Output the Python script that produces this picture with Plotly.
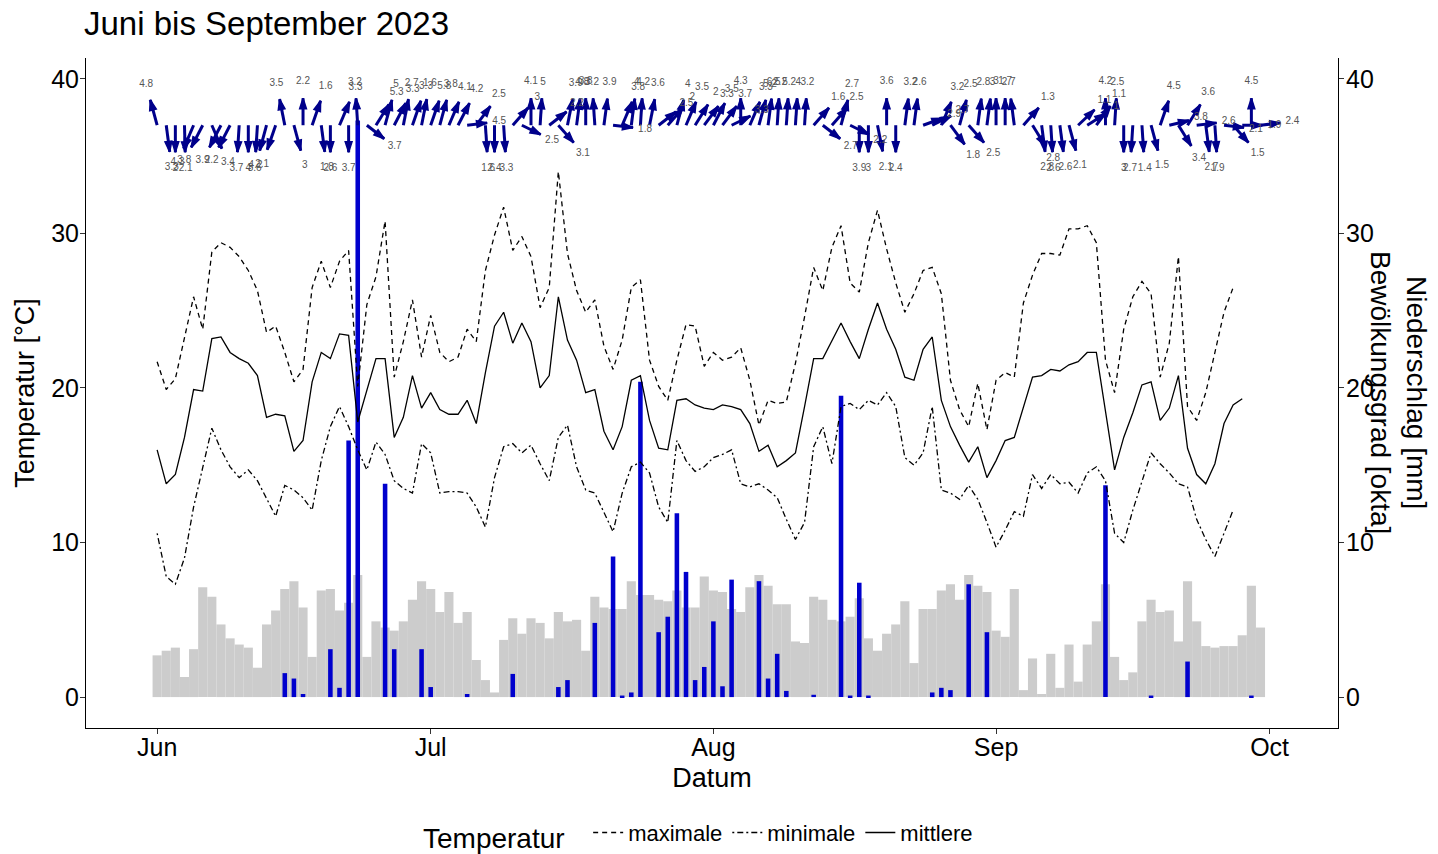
import math
import pandas as pd
import plotly.graph_objects as go

# ---------------- data ----------------
dates = pd.date_range("2023-06-01", periods=122, freq="D")

t_mean = [16.0, 13.8, 14.4, 16.8, 19.9, 19.8, 23.2, 23.3, 22.3, 21.9, 21.6, 20.8, 18.1, 18.3, 18.2, 15.9,
          16.6, 20.4, 22.3, 21.9, 23.5, 23.4, 17.8, 19.9, 21.9, 21.9, 16.8, 18.1, 20.8, 18.7, 19.7, 18.6,
          18.3, 18.3, 19.2, 17.7, 21.0, 24.0, 24.9, 22.9, 24.2, 23.0, 20.0, 20.8, 25.9, 23.1, 21.8, 19.7,
          19.9, 17.2, 16.0, 17.5, 20.5, 20.8, 17.9, 16.1, 16.0, 19.2, 19.3, 18.9, 18.7, 18.6, 18.9, 18.8,
          18.6, 17.7, 15.9, 16.3, 14.9, 15.3, 15.8, 18.8, 21.9, 21.9, 23.0, 24.2, 23.0, 21.9, 23.8, 25.5,
          23.8, 22.5, 20.7, 20.5, 22.5, 23.3, 19.2, 17.5, 16.3, 15.2, 16.2, 14.2, 15.3, 16.6, 16.8, 18.8,
          20.7, 20.8, 21.2, 21.1, 21.5, 21.7, 22.3, 22.3, 18.6, 14.7, 16.8, 18.4, 20.2, 20.4, 17.9, 18.7,
          20.8, 16.1, 14.4, 13.8, 15.1, 17.7, 18.9, 19.3]

t_max = [21.7, 19.9, 20.6, 23.3, 25.9, 23.8, 28.8, 29.4, 29.1, 28.5, 27.6, 26.3, 23.6, 24.0, 22.3, 20.4,
         21.2, 26.5, 28.2, 26.5, 28.2, 28.9, 20.1, 25.4, 27.2, 30.8, 20.7, 23.0, 25.7, 22.0, 24.7, 22.3,
         21.7, 22.0, 23.8, 23.0, 27.6, 29.9, 31.7, 28.9, 29.8, 28.5, 25.2, 26.5, 34.0, 28.7, 26.3, 24.9,
         25.7, 22.7, 21.2, 23.1, 26.5, 27.0, 21.8, 20.1, 19.2, 21.8, 24.1, 24.0, 21.4, 22.3, 21.8, 22.0,
         22.6, 20.5, 17.6, 19.2, 19.0, 19.1, 21.6, 24.6, 27.8, 26.3, 29.1, 30.5, 26.8, 26.2, 29.4, 31.5,
         29.0, 26.8, 24.9, 26.1, 27.6, 27.8, 26.1, 20.5, 18.6, 17.5, 20.3, 17.3, 20.5, 21.0, 20.7, 25.5,
         27.3, 28.7, 28.7, 28.6, 30.3, 30.3, 30.5, 29.4, 21.8, 19.7, 23.8, 25.9, 26.9, 26.1, 20.7, 22.9,
         28.5, 18.8, 17.9, 19.7, 22.3, 24.9, 26.5]

t_min = [10.6, 7.8, 7.3, 9.0, 12.3, 14.9, 17.4, 16.0, 14.9, 14.2, 14.7, 14.0, 12.8, 11.7, 13.7, 13.4,
         12.9, 12.1, 15.3, 17.5, 18.8, 17.5, 16.0, 14.7, 16.5, 15.7, 14.0, 13.5, 13.2, 16.4, 15.8, 13.2,
         13.3, 13.3, 13.2, 12.3, 11.0, 14.2, 16.2, 16.4, 15.8, 16.3, 15.1, 14.0, 16.8, 17.6, 14.9, 13.4,
         13.2, 11.9, 10.7, 13.2, 14.9, 15.2, 14.5, 12.3, 11.3, 16.6, 15.3, 14.6, 14.9, 15.5, 15.7, 16.0,
         13.8, 13.6, 13.8, 13.4, 12.9, 11.5, 10.2, 11.3, 16.2, 17.5, 15.1, 18.8, 19.0, 18.6, 19.2, 18.9,
         19.7, 18.8, 15.5, 15.0, 15.8, 18.8, 13.4, 13.2, 12.8, 13.7, 12.8, 11.3, 9.7, 10.8, 12.0, 11.7,
         14.4, 13.5, 14.4, 13.8, 13.9, 13.2, 14.5, 14.9, 14.0, 10.6, 10.0, 12.1, 14.0, 15.8, 15.1, 14.5,
         13.8, 13.6, 11.5, 10.2, 9.1, 10.6, 12.1]

cloud_okta = [2.7, 3.0, 3.2, 1.3, 3.1, 7.1, 6.5, 4.7, 3.8, 3.4, 3.2, 1.9, 4.7, 5.6, 7.0, 7.5,
              5.8, 2.6, 6.9, 7.0, 5.6, 6.1, 7.9, 2.6, 4.9, 4.5, 4.3, 4.9, 6.3, 7.5, 7.0, 5.5,
              6.8, 4.8, 5.5, 2.4, 1.1, 0.3, 3.7, 5.1, 4.1, 5.1, 4.8, 3.8, 5.5, 4.9, 5.0, 3.0,
              6.5, 5.8, 5.7, 5.7, 7.5, 6.6, 6.6, 6.3, 6.2, 6.9, 5.8, 5.8, 7.8, 6.9, 6.8, 5.7,
              5.5, 7.1, 7.9, 7.2, 6.0, 6.0, 3.6, 3.5, 6.5, 6.3, 5.0, 4.9, 5.2, 6.4, 3.8, 3.0,
              4.1, 4.7, 6.2, 2.2, 5.7, 5.7, 6.9, 7.3, 6.3, 7.9, 7.2, 6.8, 4.3, 3.9, 7.0, 0.45,
              2.5, 0.2, 2.8, 0.6, 3.4, 1.0, 3.4, 4.9, 7.3, 2.6, 1.1, 1.6, 4.9, 6.3, 5.5, 5.6,
              3.6, 7.5, 4.9, 3.3, 3.2, 3.3, 3.3, 4.0, 7.2, 4.5]

precip_mm = [0, 0, 0, 0, 0, 0, 0, 0, 0, 0, 0, 0, 0, 0, 1.55, 1.2,
             0.2, 0, 0, 3.1, 0.6, 16.6, 37.3, 0, 0, 13.8, 3.1, 0, 0, 3.1, 0.65, 0,
             0, 0, 0.2, 0, 0, 0, 0, 1.5, 0, 0, 0, 0, 0.65, 1.1, 0, 0,
             4.8, 0, 9.1, 0.1, 0.3, 20.4, 0, 4.2, 5.2, 11.9, 8.1, 1.1, 1.95, 4.9, 0.7, 7.6,
             0, 0, 7.5, 1.2, 2.8, 0.4, 0, 0, 0.15, 0, 0, 19.5, 0.1, 7.4, 0.1, 0,
             0, 0, 0, 0, 0, 0.3, 0.6, 0.45, 0, 7.3, 0, 4.2, 0, 0, 0, 0,
             0, 0, 0, 0, 0, 0, 0, 0, 13.7, 0, 0, 0, 0, 0.1, 0, 0,
             0, 2.3, 0, 0, 0, 0, 0, 0, 0.1, 0]

# direction the arrow points (deg, clockwise from up) and wind speed label
wind_dir = [340, 170, 180, 178, 210, 215, 150, 215, 215, 185, 180, 185, 200, 205, 345, 160,
            0, 25, 170, 180, 30, 180, 355, 120, 40, 20, 35, 15, 25, 15, 25, 20,
            30, 35, 85, 45, 175, 180, 175, 50, 110, 0, 5, 60, 130, 15, 10, 0,
            355, 10, 95, 30, 10, 5, 15, 60, 50, 20, 30, 40, 45, 35, 45, 70,
            0, 30, 20, 10, 5, 5, 5, 5, 50, 120, 50, 20, 110, 180, 180, 165,
            0, 180, 10, 10, 75, 70, 30, 135, 20, 130, 10, 10, 0, 0, 350, 50,
            140, 170, 175, 170, 160, 55, 65, 45, 0, 5, 180, 185, 175, 160, 25, 80,
            140, 40, 85, 170, 175, 95, 130, 90, 0, 85]

wind_speed = [4.8, 3.3, 2.0, 2.1, 4.3, 3.8, 3.4, 3.9, 2.2, 3.7, 4.0, 3.6, 4.2, 2.1, 3.5, 3.0,
              2.2, 1.6, 1.8, 2.6, 3.3, 3.7, 3.2, 3.7, 5.3, 5.0, 3.3, 2.7, 3.3, 1.6, 5.8, 3.8,
              4.1, 4.2, 4.5, 2.5, 1.6, 2.4, 3.3, 3.0, 2.5, 4.1, 5.0, 2.2, 3.1, 3.9, 4.8, 3.8,
              3.2, 3.9, 1.8, 3.8, 4.0, 4.2, 3.6, 2.5, 2.0, 4.0, 3.5, 2.0, 3.3, 3.5, 3.7, 3.3,
              4.3, 3.3, 5.2, 6.5, 2.2, 5.2, 4.0, 3.2, 1.6, 2.7, 2.5, 2.7, 2.2, 3.9, 3.0, 2.1,
              3.6, 2.4, 3.2, 2.6, 2.9, 2.7, 3.2, 1.8, 2.5, 2.5, 2.8, 3.0, 3.0, 1.7, 2.7, 1.3,
              2.8, 2.8, 2.6, 2.6, 2.1, 1.1, 1.0, 1.1, 4.2, 2.5, 3.0, 2.7, 1.4, 1.5, 4.5, 3.8,
              3.4, 3.6, 2.6, 2.7, 1.9, 2.1, 1.5, 1.9, 4.5, 2.4]

tick_dates = ["2023-06-01", "2023-07-01", "2023-08-01", "2023-09-01", "2023-10-01"]
tick_labels = ["Jun", "Jul", "Aug", "Sep", "Oct"]
y_ticks = [0, 10, 20, 30, 40]

# ---------------- styling constants ----------------
FONT = "Liberation Sans, Arial, sans-serif"
DAY_MS = 86400000
ARROW_BASE = 37.0
ARROW_DX_DAYS = 2.2
ARROW_DY = 1.75
LABEL_FACTOR = 1.6
ARROW_COLOR = "#00008B"
# page body has an 8px margin, so the figure is drawn 8px smaller and offset
W, H = 1430, 846


def iso(ts):
    return ts.strftime("%Y-%m-%d %H:%M:%S")


# wind arrow geometry derived from direction data
arr_x, arr_y = [], []
head_x, head_y = [], []
lab_x, lab_y, lab_t = [], [], []
for d, th, sp in zip(dates, wind_dir, wind_speed):
    r = math.radians(th)
    sx, cy = math.sin(r), math.cos(r)
    tip_x = d + pd.Timedelta(days=ARROW_DX_DAYS * sx)
    tip_y = ARROW_BASE + ARROW_DY * cy
    arr_x += [iso(d), iso(tip_x), None]
    arr_y += [ARROW_BASE, tip_y, None]
    # head trace: shaft direction given by a point slightly behind the tip
    back_x = d + pd.Timedelta(days=ARROW_DX_DAYS * sx * 0.6)
    back_y = ARROW_BASE + ARROW_DY * cy * 0.6
    head_x += [iso(back_x), iso(tip_x), None]
    head_y += [back_y, tip_y, None]
    lx = d + pd.Timedelta(days=ARROW_DX_DAYS * sx * LABEL_FACTOR)
    ly = ARROW_BASE + ARROW_DY * cy * LABEL_FACTOR
    lab_x.append(iso(lx))
    lab_y.append(ly)
    lab_t.append(f"{sp:g}")

head_size = [0, 11, 0] * len(dates)
x_dates = [iso(d) for d in dates]

fig = go.Figure()

# cloud cover (grey) and precipitation (blue) bars
fig.add_trace(go.Bar(x=x_dates, y=cloud_okta, width=DAY_MS, marker_color="#CCCCCC",
                     marker_line_width=0, showlegend=False, yaxis="y"))
fig.add_trace(go.Bar(x=x_dates, y=precip_mm, width=0.5 * DAY_MS, marker_color="#0000CD",
                     marker_line_width=0, showlegend=False, yaxis="y"))

# temperature lines
fig.add_trace(go.Scatter(x=x_dates[:len(t_max)], y=t_max, mode="lines", name="maximale",
                         line=dict(color="black", width=1.3, dash="5px,4px"), yaxis="y2"))
fig.add_trace(go.Scatter(x=x_dates[:len(t_min)], y=t_min, mode="lines", name="minimale",
                         line=dict(color="black", width=1.3, dash="2px,3px,6px,3px"), yaxis="y2"))
fig.add_trace(go.Scatter(x=x_dates[:len(t_mean)], y=t_mean, mode="lines", name="mittlere",
                         line=dict(color="black", width=1.3), yaxis="y2"))

# wind arrows: shafts and heads
fig.add_trace(go.Scatter(x=arr_x, y=arr_y, mode="lines", showlegend=False, yaxis="y2",
                         line=dict(color=ARROW_COLOR, width=3), hoverinfo="skip"))
fig.add_trace(go.Scatter(x=head_x, y=head_y, mode="markers", showlegend=False, yaxis="y2",
                         opacity=1,
                         marker=dict(symbol="arrow", size=head_size, color=ARROW_COLOR, opacity=1,
                                     angleref="previous", line=dict(width=1.5, color=ARROW_COLOR)),
                         hoverinfo="skip"))
fig.add_trace(go.Scatter(x=lab_x, y=lab_y, mode="text", text=lab_t, showlegend=False, yaxis="y2",
                         textfont=dict(family=FONT, size=10, color="#555555"), hoverinfo="skip"))

x_start = dates[0] - pd.Timedelta(days=7.8)
x_end = dates[0] + pd.Timedelta(days=129.5)
y_range = [-2.0, 41.35]

axis_common = dict(showline=True, linecolor="black", linewidth=1, ticks="outside", ticklen=5,
                   tickcolor="#333333", showgrid=False, zeroline=False, automargin=False,
                   tickfont=dict(family=FONT, size=25, color="black"))

fig.update_layout(
    width=W, height=H,
    paper_bgcolor="white", plot_bgcolor="white",
    margin=dict(l=78, r=100, t=50, b=126, autoexpand=False),
    barmode="overlay",
    font=dict(family=FONT, color="black"),
    title=dict(text="Juni bis September 2023", x=76 / W, xanchor="left", xref="container",
               y=1 - 15 / H, yanchor="middle", yref="container", pad=dict(t=0, b=0, l=0, r=0),
               font=dict(family=FONT, size=33, color="black")),
    xaxis=dict(type="date", range=[iso(x_start), iso(x_end)], tickvals=tick_dates,
               ticktext=tick_labels, ticklabelstandoff=-8,
               title=dict(text="Datum", font=dict(family=FONT, size=27, color="black"), standoff=8),
               **axis_common),
    yaxis=dict(range=y_range, tickvals=y_ticks, ticklabelstandoff=-4,
               title=dict(text="Temperatur [°C]", font=dict(family=FONT, size=27, color="black"),
                          standoff=8),
               **axis_common),
    yaxis2=dict(range=y_range, tickvals=y_ticks, overlaying="y", side="right",
                ticklabelstandoff=-3, **axis_common),
    legend=dict(orientation="h", x=0.49, xanchor="center", y=-0.16, yanchor="middle",
                title=dict(text="Temperatur  ", font=dict(family=FONT, size=28, color="black")),
                font=dict(family=FONT, size=22, color="black"), itemwidth=30,
                bgcolor="rgba(0,0,0,0)"),
    annotations=[dict(text="Niederschlag [mm]<br>Bewölkungsgrad [okta]", textangle=90,
                      xref="paper", yref="paper", x=(1399 - 86) / 1252, y=(728 - 392) / 670,
                      xanchor="center", yanchor="middle", showarrow=False,
                      font=dict(family=FONT, size=28, color="black"))],
)

fig.write_html("out.html")
